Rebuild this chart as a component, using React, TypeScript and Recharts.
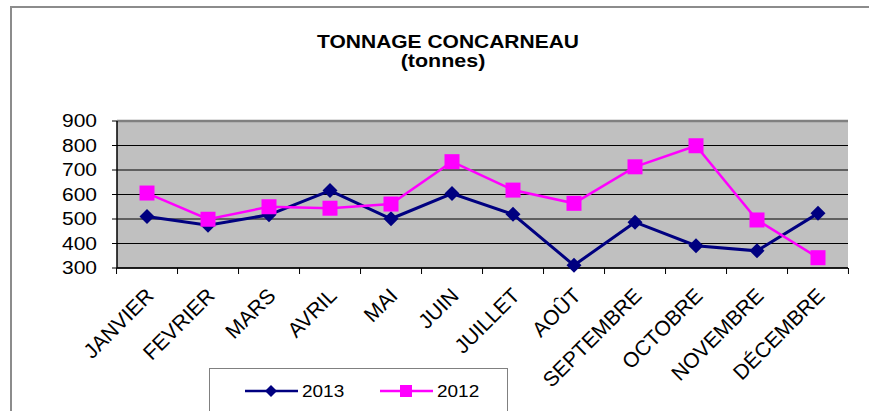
import React from "react";
import {
  LineChart,
  Line,
  XAxis,
  YAxis,
  CartesianGrid,
  ReferenceLine,
  Legend,
} from "recharts";

const months = [
  "JANVIER",
  "FEVRIER",
  "MARS",
  "AVRIL",
  "MAI",
  "JUIN",
  "JUILLET",
  "AOÛT",
  "SEPTEMBRE",
  "OCTOBRE",
  "NOVEMBRE",
  "DÉCEMBRE",
];
const tonnes2013 = [510, 475, 517, 616, 501, 604, 519, 311, 487, 391, 370, 523];
const tonnes2012 = [606, 499, 550, 544, 561, 734, 618, 564, 713, 799, 496, 342];
const yTicks = [300, 400, 500, 600, 700, 800, 900];
const seriesOrder = ["2013", "2012"];

const data = months.map((m, i) => ({
  month: m,
  y2013: tonnes2013[i],
  y2012: tonnes2012[i],
}));

const FONT = "'Liberation Sans', Arial, sans-serif";
const SQUASH = 0.85;
const HALF_BAND = 30.46;
const NAVY = "#000080";
const PINK = "#FF00FF";

const Diamond = (props: any) => {
  const { cx, cy, fill, size = 7.5 } = props;
  if (cx == null || cy == null) return null;
  return (
    <path
      d={`M${cx},${cy - size} L${cx + size},${cy} L${cx},${cy + size} L${cx - size},${cy} Z`}
      fill={fill}
    />
  );
};

const Square = (props: any) => {
  const { cx, cy, fill, size = 7.5 } = props;
  if (cx == null || cy == null) return null;
  return <rect x={cx - size} y={cy - size} width={size * 2} height={size * 2} fill={fill} />;
};

const YTick = (props: any) => {
  const { x, y, payload } = props;
  return (
    <text
      transform={`translate(${x},${y}) scale(1,${SQUASH})`}
      textAnchor="end"
      dy="0.36em"
      fontSize={21}
      fontFamily={FONT}
      fill="#000"
    >
      {payload.value}
    </text>
  );
};

const XTick = (props: any) => {
  const { x, y, payload, index } = props;
  const last = index === months.length - 1;
  return (
    <g>
      <line x1={x - HALF_BAND} x2={x - HALF_BAND} y1={y} y2={y + 6} stroke="#000" />
      {last && (
        <line x1={x + HALF_BAND} x2={x + HALF_BAND} y1={y} y2={y + 6} stroke="#000" />
      )}
      <text
        transform={`translate(${x + 8},${y + 29}) rotate(-45)`}
        textAnchor="end"
        fontSize={21}
        fontFamily={FONT}
        fill="#000"
      >
        {payload.value}
      </text>
    </g>
  );
};

const LegendBox = (props: any) => {
  const items = [...(props.payload || [])].sort(
    (a: any, b: any) => seriesOrder.indexOf(a.value) - seriesOrder.indexOf(b.value)
  );
  return (
    <svg width={300} height={50} style={{ display: "block" }}>
      <rect x={0.5} y={0.5} width={298} height={60} fill="#fff" stroke="#808080" />
      {items.map((it: any, i: number) => {
        const x0 = 36 + i * 135;
        const cy = 23;
        return (
          <g key={it.value}>
            <line x1={x0} x2={x0 + 53} y1={cy} y2={cy} stroke={it.color} strokeWidth={2.5} />
            {it.value === "2013" ? (
              <Diamond cx={x0 + 26} cy={cy} fill={it.color} size={6} />
            ) : (
              <Square cx={x0 + 26} cy={cy} fill={it.color} size={6} />
            )}
            <text
              transform={`translate(${x0 + 57},${cy}) scale(1,${SQUASH})`}
              dy="0.36em"
              fontSize={19}
              fontFamily={FONT}
              fill="#000"
            >
              {it.value}
            </text>
          </g>
        );
      })}
    </svg>
  );
};

export default function App() {
  return (
    <div
      style={{
        position: "absolute",
        left: 0,
        top: 0,
        width: 869,
        height: 411,
        overflow: "hidden",
        background: "#fff",
      }}
    >
      <div
        style={{
          position: "absolute",
          left: 10,
          top: 6,
          width: 900,
          height: 500,
          border: "2px solid #8c8c8c",
        }}
      />
      <svg
        width={869}
        height={120}
        style={{ position: "absolute", left: 0, top: 0 }}
      >
        <text
          transform={`translate(448,48) scale(1,${SQUASH})`}
          textAnchor="middle"
          fontSize={21}
          fontWeight="bold"
          fontFamily={FONT}
        >
          TONNAGE CONCARNEAU
        </text>
        <text
          transform={`translate(443,67) scale(1,${SQUASH})`}
          textAnchor="middle"
          fontSize={21.5}
          fontWeight="bold"
          fontFamily={FONT}
        >
          (tonnes)
        </text>
      </svg>
      <div style={{ position: "absolute", left: 0, top: 0 }}>
        <LineChart
          width={869}
          height={411}
          data={data}
          margin={{ top: 121, right: 21, left: 0, bottom: 103 }}
        >
          <CartesianGrid vertical={false} stroke="#000" fill="#c0c0c0" />
          <XAxis
            dataKey="month"
            interval={0}
            height={40}
            padding={{ left: 30, right: 30 }}
            tickLine={false}
            tickSize={0}
            tickMargin={0}
            axisLine={{ stroke: "#000", strokeWidth: 1.5 }}
            tick={<XTick />}
          />
          <YAxis
            width={117}
            domain={[300, 900]}
            ticks={yTicks}
            interval={0}
            tickSize={5}
            tickMargin={15}
            axisLine={{ stroke: "#000", strokeWidth: 1.5 }}
            tickLine={{ stroke: "#000" }}
            tick={<YTick />}
          />
          <YAxis
            yAxisId="frame"
            orientation="right"
            width={0}
            domain={[300, 900]}
            tick={false}
            tickLine={false}
            axisLine={{ stroke: "#808080", strokeWidth: 2.5 }}
          />
          <ReferenceLine y={900} stroke="#808080" strokeWidth={2.5} />
          <Legend
            layout="horizontal"
            align="center"
            verticalAlign="middle"
            wrapperStyle={{ left: 209, top: 368, width: 300, height: 50 }}
            content={<LegendBox />}
          />
          <Line
            type="linear"
            dataKey="y2013"
            name="2013"
            stroke={NAVY}
            strokeWidth={3}
            dot={<Diamond fill={NAVY} />}
            activeDot={false}
            isAnimationActive={false}
          />
          <Line
            type="linear"
            dataKey="y2012"
            name="2012"
            stroke={PINK}
            strokeWidth={2.5}
            dot={<Square fill={PINK} />}
            activeDot={false}
            isAnimationActive={false}
          />
        </LineChart>
      </div>
    </div>
  );
}
